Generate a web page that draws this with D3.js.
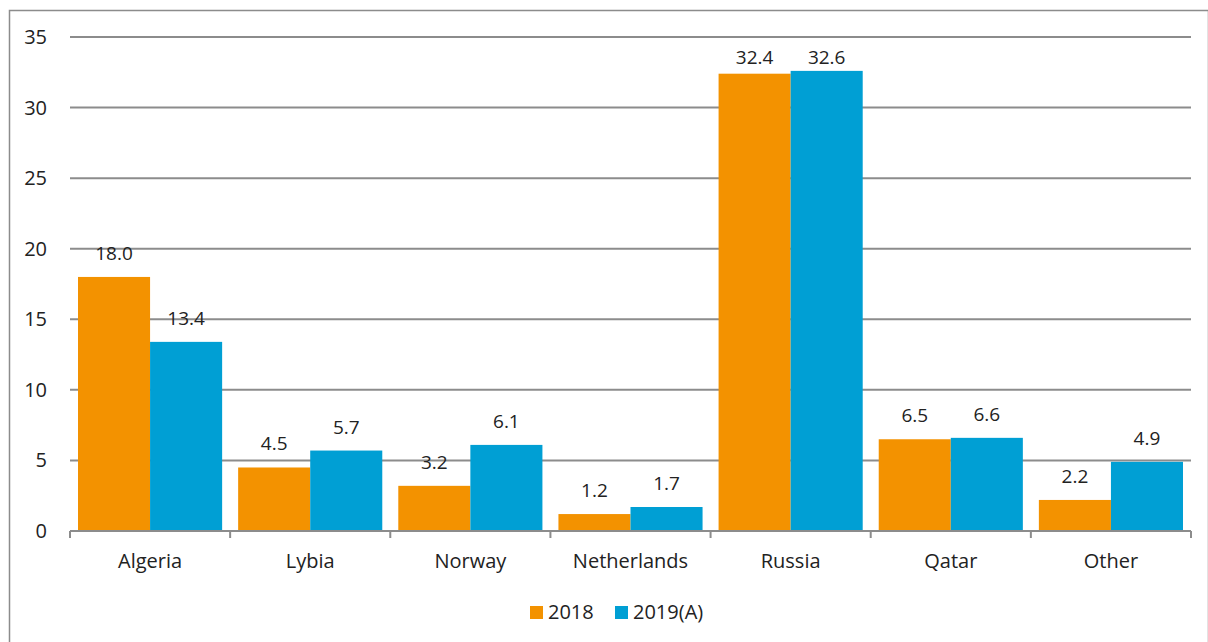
<!DOCTYPE html>
<html lang="en">
<head>
  <meta charset="UTF-8" />
  <title>Gas imports by origin</title>
  <script src="https://d3js.org/d3.v7.min.js"></script>
  <style>
    body { margin: 0; background: #fff; font-family: "Open Sans", "Noto Sans", sans-serif; }
    svg text { fill: #222; }
  </style>
</head>
<body>
  <div id="chart"></div>
  <script>
    const categories = ["Algeria", "Lybia", "Norway", "Netherlands", "Russia", "Qatar", "Other"];
    const series = ["2018", "2019(A)"];
    const values2018 = [18.0, 4.5, 3.2, 1.2, 32.4, 6.5, 2.2];
    const values2019 = [13.4, 5.7, 6.1, 1.7, 32.6, 6.6, 4.9];
    const yTicks = [0, 5, 10, 15, 20, 25, 30, 35];
    const colors = ["#f39200", "#009fd4"];

    const width = 1208, height = 642;
    const m = { left: 70, right: 17, top: 37, bottom: 111 };

    const svg = d3.select('#chart').append('svg')
      .attr('width', width).attr('height', height);

    // cadre
    svg.append('rect')
      .attr('x', 9.5).attr('y', 10.5)
      .attr('width', width - 9).attr('height', height)
      .attr('fill', 'none').attr('stroke', '#8c8c8c').attr('stroke-width', 1.5);

    const x = d3.scaleBand().domain(categories)
      .range([m.left, width - m.right]).paddingInner(0.1).paddingOuter(0.05);
    const xs = d3.scaleBand().domain(series).range([0, x.bandwidth()]);
    const y = d3.scaleLinear().domain([0, 35]).range([height - m.bottom, m.top]);

    // grille
    svg.append('g').selectAll('line').data(yTicks.slice(1)).join('line')
      .attr('x1', m.left).attr('x2', width - m.right)
      .attr('y1', d => y(d)).attr('y2', d => y(d))
      .attr('stroke', '#8c8c8c').attr('stroke-width', 2);

    // graduations y
    svg.append('g').selectAll('text').data(yTicks).join('text')
      .attr('x', 47).attr('y', d => y(d)).attr('dy', '0.35em')
      .attr('text-anchor', 'end').attr('font-size', 20)
      .text(d => d);

    const data = series.map((s, i) => ({ s, vals: i === 0 ? values2018 : values2019, color: colors[i] }));

    const groups = svg.append('g').selectAll('g').data(data).join('g');
    groups.selectAll('rect').data(d => d.vals.map((v, j) => ({ v, c: categories[j], s: d.s, color: d.color }))).join('rect')
      .attr('x', d => x(d.c) + xs(d.s))
      .attr('width', xs.bandwidth())
      .attr('y', d => y(d.v))
      .attr('height', d => y(0) - y(d.v))
      .attr('fill', d => d.color);

    // étiquettes, gardées sous le haut du graphique
    groups.selectAll('text').data(d => d.vals.map((v, j) => ({ v, c: categories[j], s: d.s }))).join('text')
      .attr('x', d => x(d.c) + xs(d.s) + xs.bandwidth() / 2)
      .attr('y', d => Math.max(y(d.v) - 17, m.top + 27))
      .attr('text-anchor', 'middle').attr('font-size', 19)
      .text(d => d.v.toFixed(1));

    // axe x
    const bounds = d3.range(categories.length + 1).map(i => m.left + i * (width - m.left - m.right) / categories.length);
    svg.append('line')
      .attr('x1', m.left).attr('x2', width - m.right)
      .attr('y1', y(0)).attr('y2', y(0))
      .attr('stroke', '#8c8c8c').attr('stroke-width', 2);
    svg.append('g').selectAll('line').data(bounds).join('line')
      .attr('x1', d => d).attr('x2', d => d)
      .attr('y1', y(0)).attr('y2', y(0) + 7)
      .attr('stroke', '#8c8c8c').attr('stroke-width', 2);
    svg.append('g').selectAll('text').data(categories).join('text')
      .attr('x', d => x(d) + x.bandwidth() / 2).attr('y', y(0) + 37)
      .attr('text-anchor', 'middle').attr('font-size', 20)
      .text(d => d);

    // légende
    const legend = svg.append('g').attr('transform', 'translate(530,612)');
    const items = legend.selectAll('g').data(data).join('g')
      .attr('transform', (d, i) => `translate(${i * 85},0)`);
    items.append('rect').attr('x', 0).attr('y', -6).attr('width', 13).attr('height', 13).attr('fill', d => d.color);
    items.append('text').attr('x', 18).attr('y', 0).attr('dy', '0.35em')
      .attr('font-size', 20).text(d => d.s);
  </script>
</body>
</html>
